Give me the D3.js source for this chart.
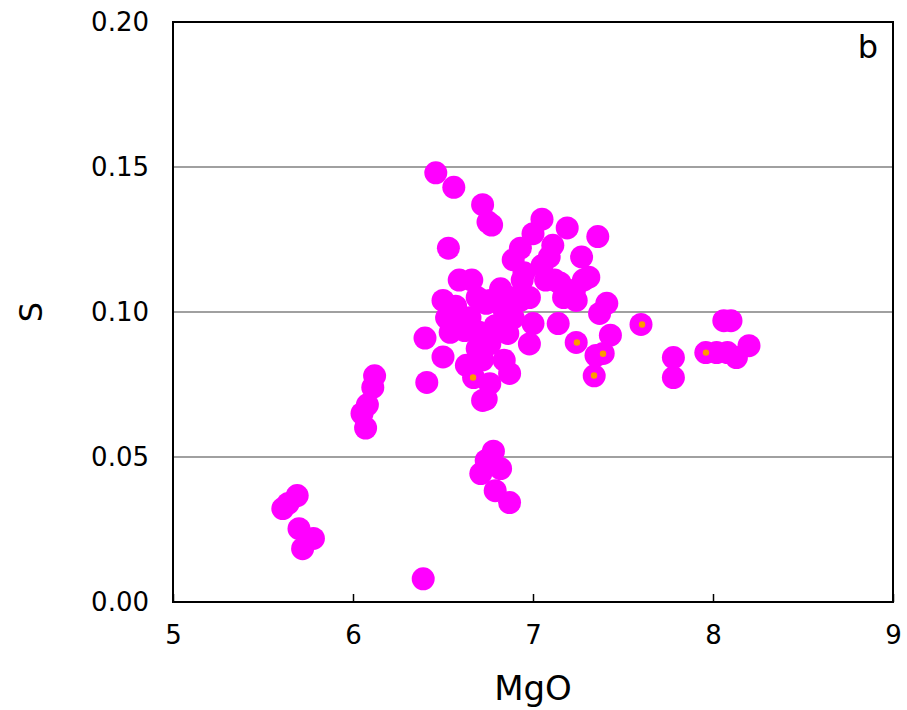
<!DOCTYPE html>
<html>
<head>
<meta charset="utf-8">
<script src="https://cdn.jsdelivr.net/npm/d3@7"></script>
<style>
  body { margin: 0; background: #fff; }
  text { font-family: "DejaVu Sans", sans-serif; fill: #000; }
</style>
</head>
<body>
<svg id="chart" width="907" height="710"></svg>
<script>
// magenta series: MgO vs S
let mgo = [6.46,6.56,6.72,6.77,6.75,6.53,7.05,7.19,7.36,7.00,7.11,6.93,6.89,7.27,7.05,7.31,7.12,6.94,6.59,6.66,
  6.50,6.82,6.98,7.15,7.28,7.41,7.17,7.24,6.74,6.69,6.87,7.37,6.40,6.50,6.41,6.72,6.74,6.76,6.67,6.63,
  6.69,6.84,6.87,6.98,6.86,6.54,6.52,7.14,7.00,6.65,6.89,6.76,6.60,6.70,7.60,7.24,7.43,7.39,7.35,7.34,
  7.78,7.78,8.06,8.10,7.96,8.02,8.08,8.13,8.20,6.78,6.74,6.82,6.71,6.79,6.87,6.12,6.11,6.08,6.05,6.07,
  5.69,5.61,5.64,5.70,5.78,5.72,6.39,
  6.76,6.84,6.62,6.79,6.93,7.07,7.23,6.57,6.95,7.09,6.72]
let sulfur = [0.148,0.143,0.137,0.130,0.131,0.122,0.132,0.129,0.126,0.127,0.123,0.122,0.118,0.119,0.116,0.112,0.111,0.111,0.111,0.111,
  0.104,0.108,0.105,0.110,0.111,0.103,0.105,0.104,0.103,0.105,0.105,0.0995,0.091,0.0845,0.0757,0.0695,0.070,0.0753,0.0774,0.0816,
  0.0874,0.0834,0.0788,0.089,0.0926,0.093,0.098,0.096,0.096,0.098,0.098,0.089,0.095,0.093,0.0957,0.0895,0.092,0.0857,0.085,0.078,
  0.0843,0.0774,0.097,0.097,0.086,0.086,0.086,0.0843,0.0884,0.052,0.0488,0.046,0.0443,0.0384,0.0343,0.078,0.074,0.068,0.065,0.060,
  0.0367,0.0322,0.034,0.0253,0.0219,0.0184,0.008,
  0.104,0.1005,0.0936,0.0953,0.104,0.111,0.1075,0.102,0.1135,0.119,0.0835]

// orange series (small markers)
let mgo2 = [6.667,7.244,7.389,7.339,7.606,7.961]
let sulfur2 = [0.0774,0.0895,0.0856,0.0781,0.0957,0.086]

let xTicks = [5,6,7,8,9]
let yTicks = [0,0.05,0.10,0.15,0.20]

let svg = d3.select("#chart")
let margin = {left: 173, top: 22, right: 14, bottom: 108}
let width = 907, height = 710

let x = d3.scaleLinear().domain([5,9]).range([margin.left, width-margin.right])
let y = d3.scaleLinear().domain([0,0.2]).range([height-margin.bottom, margin.top])

// gridlines
svg.append("g")
   .selectAll("line")
   .data(yTicks.slice(1,4))
   .join("line")
   .attr("x1", x(5)).attr("x2", x(9))
   .attr("y1", d => y(d)).attr("y2", d => y(d))
   .attr("stroke", "#a0a0a0")
   .attr("stroke-width", 2)

// x axis ticks pointing inward
let xAxis = svg.append("g")
   .attr("transform", `translate(0,${y(0)})`)
   .call(d3.axisBottom(x).tickValues(xTicks).tickSizeInner(-8).tickSizeOuter(0).tickPadding(24).tickFormat(d3.format("d")))
xAxis.select(".domain").remove()
xAxis.selectAll(".tick line").attr("stroke", "#000").attr("stroke-width", 1.5)
xAxis.selectAll("text").style("font-size", "26px").style("font-family", "DejaVu Sans").attr("dy", "0.71em")

let yAxis = svg.append("g")
   .attr("transform", `translate(${x(5)},0)`)
   .call(d3.axisLeft(y).tickValues(yTicks).tickSize(0).tickPadding(24).tickFormat(d3.format(".2f")))
yAxis.select(".domain").remove()
yAxis.selectAll("text").style("font-size", "26px").style("font-family", "DejaVu Sans")

// points
svg.append("g")
   .selectAll("circle")
   .data(mgo.map((d,i) => [d, sulfur[i]]))
   .join("circle")
   .attr("cx", d => x(d[0]))
   .attr("cy", d => y(d[1]))
   .attr("r", 11.5)
   .attr("fill", "#ff00ff")

svg.append("g")
   .selectAll("circle")
   .data(mgo2.map((d,i) => [d, sulfur2[i]]))
   .join("circle")
   .attr("cx", d => x(d[0]))
   .attr("cy", d => y(d[1]))
   .attr("r", 3.2)
   .attr("fill", "#ff9900")

// frame
svg.append("rect")
   .attr("x", x(5)).attr("y", y(0.2))
   .attr("width", x(9)-x(5)).attr("height", y(0)-y(0.2))
   .attr("fill", "none")
   .attr("stroke", "#000")
   .attr("stroke-width", 2)

// labels
svg.append("text")
   .attr("x", x(7)).attr("y", 700)
   .attr("text-anchor", "middle")
   .style("font-size", "34px")
   .text("MgO")

svg.append("text")
   .attr("transform", `translate(42,${y(0.1)}) rotate(-90)`)
   .attr("text-anchor", "middle")
   .style("font-size", "32px")
   .text("S")

svg.append("text")
   .attr("x", 878).attr("y", 58)
   .attr("text-anchor", "end")
   .style("font-size", "32px")
   .text("b")
</script>
</body>
</html>
